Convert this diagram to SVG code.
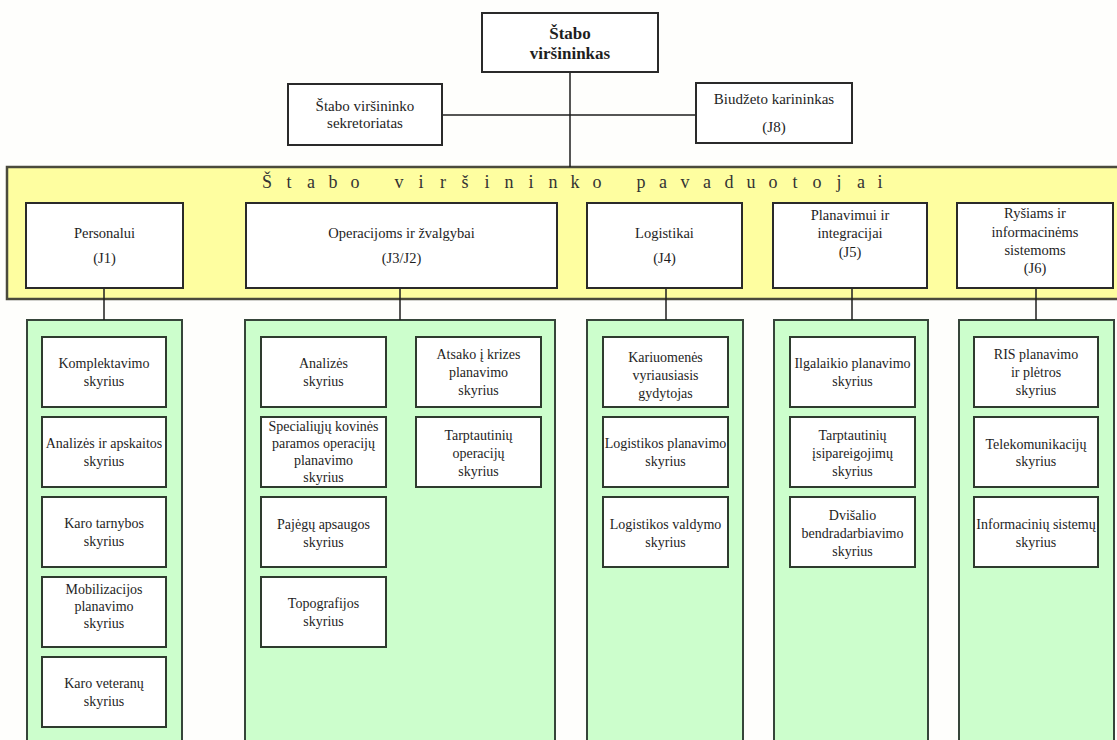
<svg xmlns="http://www.w3.org/2000/svg" width="1117" height="740" viewBox="0 0 1117 740">
  <style>
    .bg{fill:#fefefc}
    .box{fill:#ffffff;stroke:#2a2a2a;stroke-width:2}
    .sub{fill:#ffffff;stroke:#2e3b2e;stroke-width:2}
    .panel{fill:#ccfecc;stroke:#36453a;stroke-width:2}
    .band{fill:#fefea0;stroke:#4a4a3c;stroke-width:2.5}
    .conn{stroke:#1e1e1e;stroke-width:1.5;fill:none}
    .t{font-family:"Liberation Serif","Times New Roman",serif;font-size:14px;fill:#1e1e1e;text-anchor:middle}
    .m{font-size:14.5px}
    .l{font-size:15px}
    .h{font-size:17px;font-weight:bold}
    .title{font-family:"Liberation Serif","Times New Roman",serif;font-size:18px;fill:#333;text-anchor:middle}
  </style>

  <rect class="bg" x="0" y="0" width="1117" height="740"/>

  <!-- deputies band -->
  <g id="band">
    <rect class="band" x="7" y="167" width="1120" height="132"/>
    <text class="title" y="188" x="267 289 311 333 355 399 421 443 465 487 509 531 553 575 597 641 663 685 707 729 751 773 795 817 839 861 880">Štaboviršininkopavaduotojai</text>
  </g>

  <!-- sub-unit panels -->
  <g id="panels">
    <rect class="panel" x="27" y="320" width="155" height="430"/>
    <rect class="panel" x="245" y="320" width="310" height="430"/>
    <rect class="panel" x="587" y="320" width="156" height="430"/>
    <rect class="panel" x="774" y="320" width="154" height="430"/>
    <rect class="panel" x="959" y="320" width="155" height="430"/>
  </g>

  <!-- connectors -->
  <g id="connectors">
    <path class="conn" d="M570 72V167"/>
    <path class="conn" d="M442 115H696"/>
    <path class="conn" d="M104 288V320"/>
    <path class="conn" d="M400 288V320"/>
    <path class="conn" d="M666 288V320"/>
    <path class="conn" d="M852 288V320"/>
    <path class="conn" d="M1036 288V320"/>
  </g>

  <!-- top level -->
  <g id="chief">
    <rect class="box" x="482" y="13" width="176" height="59"/>
    <text class="t h" x="570" y="39">Štabo</text>
    <text class="t h" x="570" y="59">viršininkas</text>
  </g>
  <g id="secretariat">
    <rect class="box" x="288" y="84" width="154" height="61"/>
    <text class="t l" x="365" y="111">Štabo viršininko</text>
    <text class="t l" x="365" y="128">sekretoriatas</text>
  </g>
  <g id="budget">
    <rect class="box" x="696" y="83" width="156" height="60"/>
    <text class="t l" x="774" y="104">Biudžeto karininkas</text>
    <text class="t l" x="774" y="132">(J8)</text>
  </g>

  <!-- deputies -->
  <g id="j1">
    <rect class="box" x="26" y="203" width="157" height="85"/>
    <text class="t m" x="104.5" y="238">Personalui</text>
    <text class="t m" x="104.5" y="263">(J1)</text>
  </g>
  <g id="j3j2">
    <rect class="box" x="246" y="203" width="311" height="85"/>
    <text class="t m" x="401.5" y="238">Operacijoms ir žvalgybai</text>
    <text class="t m" x="401.5" y="263">(J3/J2)</text>
  </g>
  <g id="j4">
    <rect class="box" x="587" y="203" width="155" height="85"/>
    <text class="t m" x="664.5" y="238">Logistikai</text>
    <text class="t m" x="664.5" y="263">(J4)</text>
  </g>
  <g id="j5">
    <rect class="box" x="773" y="203" width="154" height="85"/>
    <text class="t m" x="850" y="220">Planavimui ir</text>
    <text class="t m" x="850" y="238">integracijai</text>
    <text class="t m" x="850" y="257">(J5)</text>
  </g>
  <g id="j6">
    <rect class="box" x="957" y="203" width="156" height="85"/>
    <text class="t m" x="1035" y="218">Ryšiams ir</text>
    <text class="t m" x="1035" y="237">informacinėms</text>
    <text class="t m" x="1035" y="255">sistemoms</text>
    <text class="t m" x="1035" y="273">(J6)</text>
  </g>

  <!-- J1 sections -->
  <g id="j1-s1">
    <rect class="sub" x="42" y="337" width="124" height="70"/>
    <text class="t" x="104" y="368">Komplektavimo</text>
    <text class="t" x="104" y="386">skyrius</text>
  </g>
  <g id="j1-s2">
    <rect class="sub" x="42" y="417" width="124" height="70"/>
    <text class="t" x="104" y="448">Analizės ir apskaitos</text>
    <text class="t" x="104" y="466">skyrius</text>
  </g>
  <g id="j1-s3">
    <rect class="sub" x="42" y="497" width="124" height="70"/>
    <text class="t" x="104" y="528">Karo tarnybos</text>
    <text class="t" x="104" y="546">skyrius</text>
  </g>
  <g id="j1-s4">
    <rect class="sub" x="42" y="577" width="124" height="70"/>
    <text class="t" x="104" y="594">Mobilizacijos</text>
    <text class="t" x="104" y="611">planavimo</text>
    <text class="t" x="104" y="628">skyrius</text>
  </g>
  <g id="j1-s5">
    <rect class="sub" x="42" y="657" width="124" height="70"/>
    <text class="t" x="104" y="688">Karo veteranų</text>
    <text class="t" x="104" y="706">skyrius</text>
  </g>

  <!-- J3/J2 sections -->
  <g id="j3-s1">
    <rect class="sub" x="261" y="337" width="125" height="70"/>
    <text class="t" x="323.5" y="368">Analizės</text>
    <text class="t" x="323.5" y="386">skyrius</text>
  </g>
  <g id="j3-s2">
    <rect class="sub" x="261" y="417" width="125" height="70"/>
    <text class="t" x="323.5" y="431">Specialiųjų kovinės</text>
    <text class="t" x="323.5" y="448">paramos operacijų</text>
    <text class="t" x="323.5" y="465">planavimo</text>
    <text class="t" x="323.5" y="482">skyrius</text>
  </g>
  <g id="j3-s3">
    <rect class="sub" x="261" y="497" width="125" height="70"/>
    <text class="t" x="323.5" y="529">Pajėgų apsaugos</text>
    <text class="t" x="323.5" y="547">skyrius</text>
  </g>
  <g id="j3-s4">
    <rect class="sub" x="261" y="577" width="125" height="70"/>
    <text class="t" x="323.5" y="608">Topografijos</text>
    <text class="t" x="323.5" y="626">skyrius</text>
  </g>
  <g id="j3-s5">
    <rect class="sub" x="416" y="337" width="125" height="70"/>
    <text class="t" x="478.5" y="359">Atsako į krizes</text>
    <text class="t" x="478.5" y="377">planavimo</text>
    <text class="t" x="478.5" y="395">skyrius</text>
  </g>
  <g id="j3-s6">
    <rect class="sub" x="416" y="417" width="125" height="70"/>
    <text class="t" x="478.5" y="440">Tarptautinių</text>
    <text class="t" x="478.5" y="458">operacijų</text>
    <text class="t" x="478.5" y="476">skyrius</text>
  </g>

  <!-- J4 sections -->
  <g id="j4-s1">
    <rect class="sub" x="603" y="337" width="125" height="70"/>
    <text class="t" x="665.5" y="362">Kariuomenės</text>
    <text class="t" x="665.5" y="380">vyriausiasis</text>
    <text class="t" x="665.5" y="398">gydytojas</text>
  </g>
  <g id="j4-s2">
    <rect class="sub" x="603" y="417" width="125" height="70"/>
    <text class="t" x="665.5" y="448">Logistikos planavimo</text>
    <text class="t" x="665.5" y="466">skyrius</text>
  </g>
  <g id="j4-s3">
    <rect class="sub" x="603" y="497" width="125" height="70"/>
    <text class="t" x="665.5" y="529">Logistikos valdymo</text>
    <text class="t" x="665.5" y="547">skyrius</text>
  </g>

  <!-- J5 sections -->
  <g id="j5-s1">
    <rect class="sub" x="790" y="337" width="125" height="70"/>
    <text class="t" x="852.5" y="368">Ilgalaikio planavimo</text>
    <text class="t" x="852.5" y="386">skyrius</text>
  </g>
  <g id="j5-s2">
    <rect class="sub" x="790" y="417" width="125" height="70"/>
    <text class="t" x="852.5" y="440">Tarptautinių</text>
    <text class="t" x="852.5" y="458">įsipareigojimų</text>
    <text class="t" x="852.5" y="476">skyrius</text>
  </g>
  <g id="j5-s3">
    <rect class="sub" x="790" y="497" width="125" height="70"/>
    <text class="t" x="852.5" y="520">Dvišalio</text>
    <text class="t" x="852.5" y="538">bendradarbiavimo</text>
    <text class="t" x="852.5" y="556">skyrius</text>
  </g>

  <!-- J6 sections -->
  <g id="j6-s1">
    <rect class="sub" x="974" y="337" width="124" height="70"/>
    <text class="t" x="1036" y="359">RIS planavimo</text>
    <text class="t" x="1036" y="377">ir plėtros</text>
    <text class="t" x="1036" y="395">skyrius</text>
  </g>
  <g id="j6-s2">
    <rect class="sub" x="974" y="417" width="124" height="70"/>
    <text class="t" x="1036" y="449">Telekomunikacijų</text>
    <text class="t" x="1036" y="466">skyrius</text>
  </g>
  <g id="j6-s3">
    <rect class="sub" x="974" y="497" width="124" height="70"/>
    <text class="t" x="1036" y="529">Informacinių sistemų</text>
    <text class="t" x="1036" y="547">skyrius</text>
  </g>
</svg>
